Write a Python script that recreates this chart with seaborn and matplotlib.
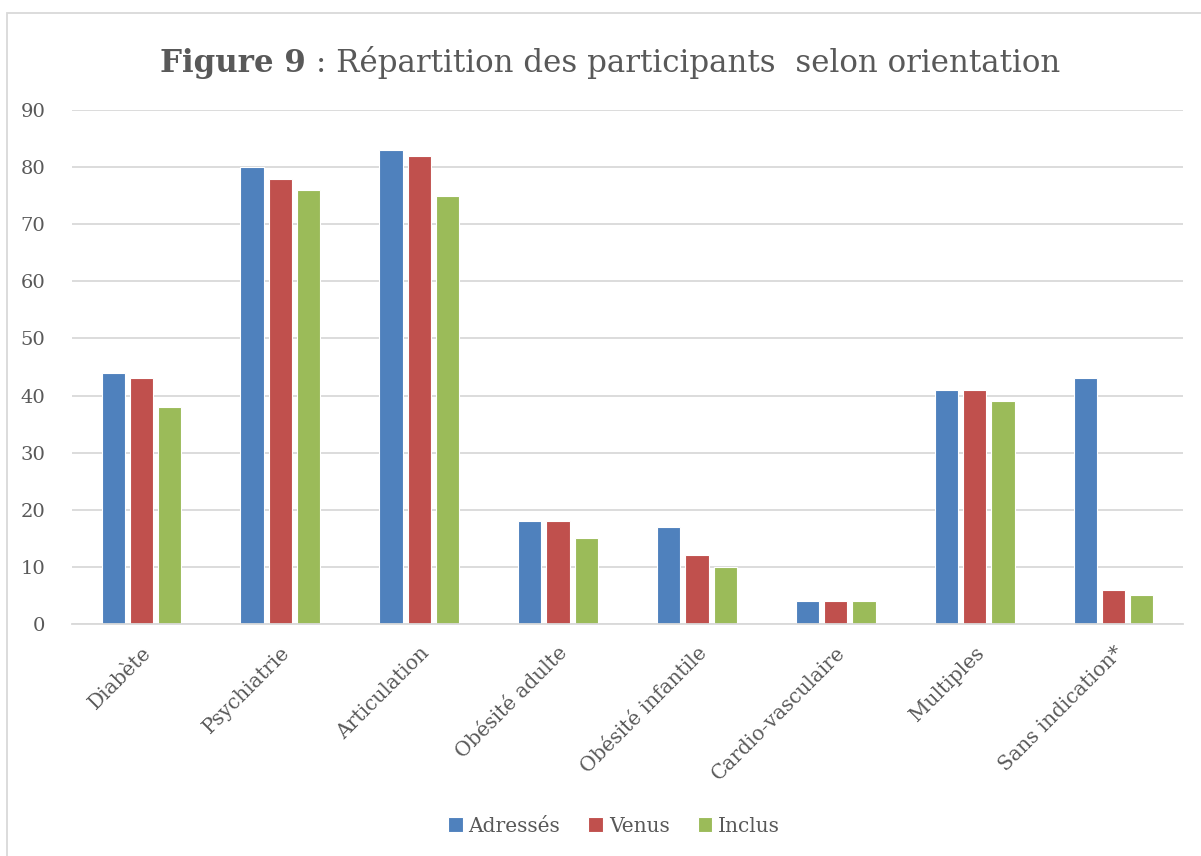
import pandas as pd
import matplotlib.pyplot as plt
import seaborn as sns
from matplotlib.patches import Rectangle

# Données
categories = ["Diabète", "Psychiatrie", "Articulation", "Obésité adulte",
              "Obésité infantile", "Cardio-vasculaire", "Multiples", "Sans indication*"]
adresses = [44, 80, 83, 18, 17, 4, 41, 43]
venus = [43, 78, 82, 18, 12, 4, 41, 6]
inclus = [38, 76, 75, 15, 10, 4, 39, 5]
series = ["Adressés", "Venus", "Inclus"]
couleurs = ["#4F81BD", "#C0504D", "#9BBB59"]

df = pd.DataFrame({"Catégorie": categories, "Adressés": adresses,
                   "Venus": venus, "Inclus": inclus})
df_long = df.melt(id_vars="Catégorie", var_name="Groupe", value_name="Nombre")

sns.set_theme(style="white")
plt.rcParams["font.family"] = ["DejaVu Serif"]
gris = "#595959"

fig = plt.figure(figsize=(12.01, 8.56), dpi=100)
ax = fig.add_axes([72 / 1201, 1 - 624 / 856, (1183 - 72) / 1201, (624 - 110) / 856])

sns.barplot(data=df_long, x="Catégorie", y="Nombre", hue="Groupe",
            hue_order=series, palette=couleurs, width=0.61, gap=0.18,
            edgecolor="white", linewidth=0.8, saturation=1, ax=ax)

ax.set_ylim(0, 90)
ax.set_yticks(range(0, 91, 10))
ax.set_xlim(-0.5, len(categories) - 0.5)
ax.yaxis.grid(True, color="#D9D9D9", linewidth=1.3)
ax.set_axisbelow(True)
for s in ["top", "right", "left"]:
    ax.spines[s].set_visible(False)
ax.spines["bottom"].set_color("#D9D9D9")
ax.spines["bottom"].set_linewidth(1.3)
ax.tick_params(axis="both", length=0, colors=gris)
ax.tick_params(axis="y", pad=19, labelsize=14)
ax.tick_params(axis="x", pad=14, labelsize=14.5)
ax.set_xlabel("")
ax.set_ylabel("")
plt.setp(ax.get_xticklabels(), rotation=45, ha="right", rotation_mode="anchor")

# Légende en bas
ax.legend(loc="center", bbox_to_anchor=(614 / 1201, 1 - 826 / 856),
          bbox_transform=fig.transFigure, ncol=3, frameon=False,
          handlelength=0.7, handleheight=0.7, handletextpad=0.3,
          columnspacing=1.4, fontsize=14.5, labelcolor=gris)

# Titre avec "Figure 9" en gras
t1 = fig.text(160 / 1201, 1 - 72 / 856, "Figure 9", fontsize=22.2,
              fontweight="bold", color=gris, ha="left", va="baseline")
ax.annotate(" : Répartition des participants  selon orientation",
            xy=(1, 0), xycoords=t1, fontsize=22.2, color=gris,
            ha="left", va="bottom", annotation_clip=False)

# Bordure de la zone de graphique
fig.patches.append(Rectangle((7 / 1201, -0.1), 1.1, 1.1 - 13 / 856,
                             transform=fig.transFigure, fill=False,
                             edgecolor="#D9D9D9", linewidth=1.3))

plt.savefig("out.png", dpi=100)
